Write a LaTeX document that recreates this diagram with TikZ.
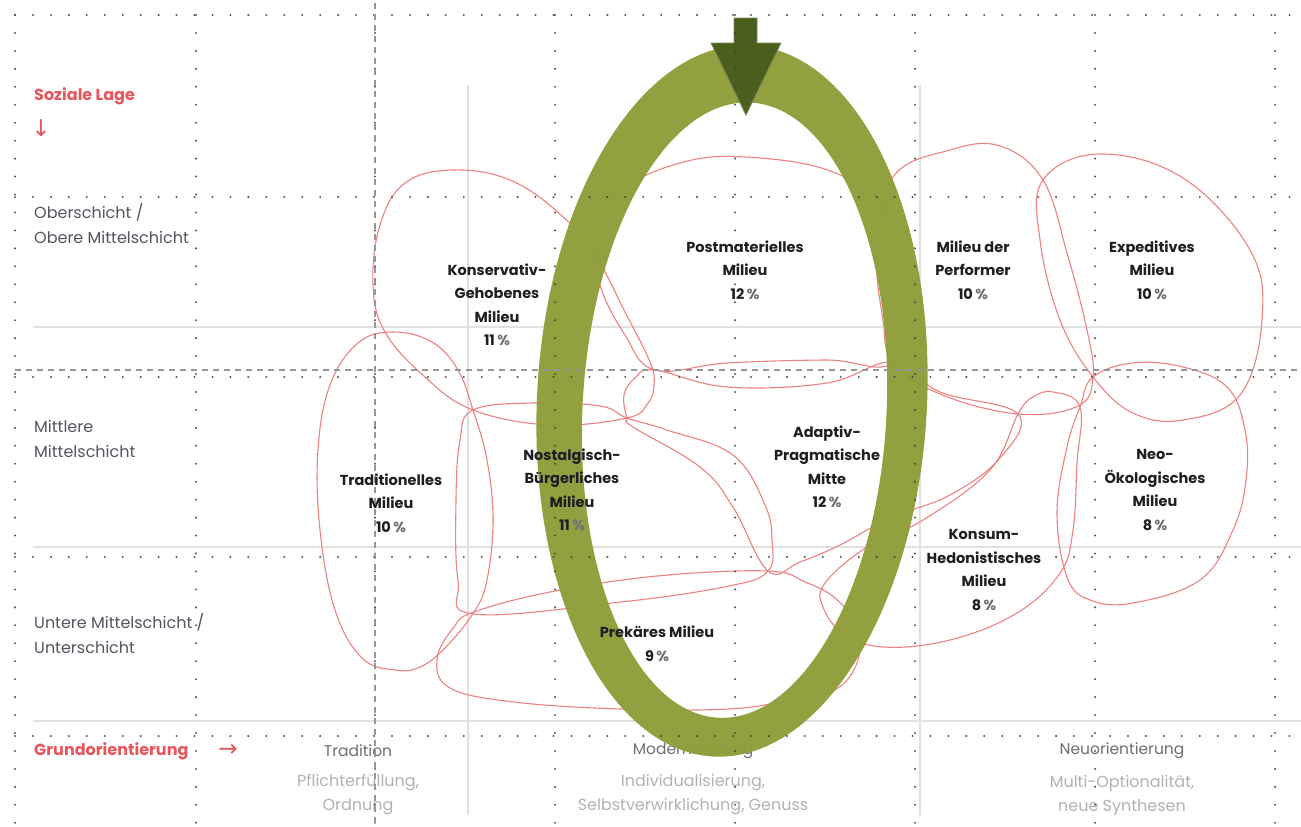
\documentclass[tikz,border=0pt]{standalone}
\usepackage{fontspec}
\setmainfont{Poppins}
\newfontfamily\arrowfont{DejaVu Sans}
\definecolor{blob}{RGB}{238,130,130}
\definecolor{ringg}{RGB}{143,157,58}
\definecolor{arrowg}{RGB}{74,94,30}
\definecolor{redlab}{RGB}{232,85,90}
\definecolor{sidegray}{RGB}{85,85,98}
\definecolor{subgray}{RGB}{178,178,178}
\definecolor{headgray}{RGB}{110,110,115}
\definecolor{dotc}{RGB}{60,60,65}
\definecolor{lgray}{RGB}{225,225,225}
\definecolor{dashc}{RGB}{150,150,150}
\definecolor{milc}{RGB}{30,30,35}
\definecolor{pctc}{RGB}{110,110,115}
\begin{document}
\begin{tikzpicture}[x=1pt,y=-1pt,
  blobline/.style={draw=blob, line width=1.1pt},
  dotline/.style={draw=dotc, line width=2.3pt, line cap=round, dash pattern=on 0pt off 17.95pt, opacity=0.85},
  dashline/.style={draw=dashc, line width=1.3pt, dash pattern=on 6pt off 5pt},
  gridgray/.style={draw=lgray, line width=1.6pt},
  mil/.style={font=\fontsize{14.5}{23.5}\selectfont\bfseries, align=center, text=milc, inner sep=0pt},
  side/.style={font=\fontsize{16}{25}\selectfont, text=sidegray, align=left, anchor=west, inner sep=0pt},
  redside/.style={font=\fontsize{16}{25}\selectfont\bfseries, text=redlab, anchor=west, inner sep=0pt},
  head/.style={font=\fontsize{15.5}{24}\selectfont, text=headgray, inner sep=0pt},
  sub/.style={font=\fontsize{16}{24}\selectfont, text=subgray, align=center, inner sep=0pt},
  arr/.style={text=redlab, inner sep=0pt, font=\arrowfont\fontsize{23}{23}\selectfont}
]
\useasboundingbox (0,0) rectangle (1301,827);
\fill[white] (0,0) rectangle (1301,827);

% light gray solid lines
\foreach \yy in {327,547,721} \draw[gridgray] (33,\yy) -- (1301,\yy);
\foreach \xx in {468,920} \draw[gridgray] (\xx,85) -- (\xx,815);

% milieu outlines
% Konservativ-Gehobenes
\draw[blobline] plot[smooth cycle, tension=0.65] coordinates {(473,410) (550,425) (627,418) (648,403) (654,385) (650,362) (625,312) (595,255) (560,214) (510,180) (453,170) (405,183) (380,225) (373,285) (385,332) (425,377)};
% Postmaterielles
\draw[blobline] plot[smooth cycle, tension=0.65] coordinates {(597,240) (620,192) (680,163) (745,157) (833,172) (890,215) (905,290) (893,362) (827,360) (727,363) (655,370) (625,335) (600,285)};
% Performer
\draw[blobline] plot[smooth cycle, tension=0.65] coordinates {(893,177) (950,150) (1000,146) (1043,180) (1067,253) (1087,330) (1093,377) (1078,406) (1018,414) (940,394) (893,362) (883,320) (877,253)};
% Expeditives
\draw[blobline] plot[smooth cycle, tension=0.65] coordinates {(1043,180) (1100,154) (1183,178) (1250,250) (1262,320) (1240,395) (1183,420) (1133,413) (1093,377) (1060,320) (1040,240)};
% Traditionelles
\draw[blobline] plot[smooth cycle, tension=0.65] coordinates {(393,332) (432,342) (458,370) (473,410) (487,460) (493,520) (487,580) (474,612) (445,648) (420,667) (395,670) (362,658) (335,610) (320,530) (318,450) (330,385) (358,343)};
% Nostalgisch-Buergerliches
\draw[blobline] plot[smooth cycle, tension=0.65] coordinates {(473,410) (533,403) (600,406) (627,418) (667,430) (733,455) (765,505) (772,540) (768,571) (729,586) (621,602) (474,614) (458,580) (456,500) (460,440)};
% Adaptiv-Pragmatische
\draw[blobline] plot[smooth cycle, tension=0.65] coordinates {(655,370) (727,387) (827,383) (893,362) (940,392) (1018,414) (1000,458) (950,495) (890,518) (840,545) (800,562) (768,571) (733,507) (700,467) (633,427) (627,418) (624,395) (635,378)};
% Konsum-Hedonistisches
\draw[blobline] plot[smooth cycle, tension=0.65] coordinates {(1018,414) (990,470) (923,520) (867,547) (825,583) (823,607) (843,633) (883,647) (950,640) (1017,613) (1060,573) (1073,530) (1077,463) (1080,407) (1053,392) (1033,397)};
% Neo-Oekologisches
\draw[blobline] plot[smooth cycle, tension=0.65] coordinates {(1093,377) (1133,363) (1183,367) (1227,387) (1245,430) (1246,480) (1233,530) (1200,580) (1133,603) (1090,600) (1067,577) (1057,513) (1067,447) (1080,407)};
% Prekaeres
\draw[blobline] plot[smooth cycle, tension=0.65] coordinates {(474,612) (550,592) (657,576) (768,571) (805,582) (835,598) (855,625) (858,660) (835,690) (790,700) (729,709) (621,709) (514,702) (450,688) (437,659) (454,627)};

% bottom axis headings (under the ring)
\node[head] (hTrad) at (358,751) {Tradition};
\node[head] (hMod) at (693,751) {Modernisierung};
\node[head] (hNeu) at (1122,751) {Neuorientierung};
\node[sub] (sTrad) at (358,795) {Pflichterfüllung,\\Ordnung};
\node[sub] (sMod) at (693,795) {Individualisierung,\\Selbstverwirklichung, Genuss};
\node[sub] (sNeu) at (1122,795) {Multi-Optionalität,\\neue Synthesen};

% green ring
\fill[ringg, even odd rule, opacity=0.97, rotate around={-3:(732,401)}] (732,401) ellipse [x radius=195, y radius=356] (735,410) ellipse [x radius=152, y radius=308];
% arrow
\filldraw[fill=arrowg, draw=arrowg!75!white, line width=0.8pt] (734,18) -- (757,18) -- (757,43) -- (781,43) -- (746,115) -- (711,43) -- (734,43) -- cycle;

% dotted grid
\foreach \xx in {15,196,375,555,735,915,1095,1275} \draw[dotline] (\xx,15) -- (\xx,827);
\foreach \yy in {15,197,377,557,736} \draw[dotline] (15,\yy) -- (1301,\yy);
% dashed lines
\draw[dashline] (375,3) -- (375,827);
\draw[dashline] (15,370) -- (1301,370);

% milieu labels
\node[mil] (mK) at (497,305) {Konservativ-\\Gehobenes\\Milieu\\11\,{\color{pctc}\%}};
\node[mil] (mP) at (745,270) {Postmaterielles\\Milieu\\12\,{\color{pctc}\%}};
\node[mil] (mPF) at (973,270) {Milieu der\\Performer\\10\,{\color{pctc}\%}};
\node[mil] (mE) at (1152,270) {Expeditives\\Milieu\\10\,{\color{pctc}\%}};
\node[mil] (mT) at (391,503) {Traditionelles\\Milieu\\10\,{\color{pctc}\%}};
\node[mil] (mN) at (572,490) {Nostalgisch-\\Bürgerliches\\Milieu\\11\,{\color{pctc}\%}};
\node[mil] (mA) at (827,467) {Adaptiv-\\Pragmatische\\Mitte\\12\,{\color{pctc}\%}};
\node[mil] (mO) at (1155,490) {Neo-\\Ökologisches\\Milieu\\8\,{\color{pctc}\%}};
\node[mil] (mH) at (984,570) {Konsum-\\Hedonistisches\\Milieu\\8\,{\color{pctc}\%}};
\node[mil] (mR) at (657,644) {Prekäres Milieu\\9\,{\color{pctc}\%}};

% side labels
\node[redside] (soz) at (34,96) {Soziale Lage};
\node[arr] (sozarr) at (41,128) {↓};
\node[side] (ober) at (34,224) {Oberschicht /\\Obere Mittelschicht};
\node[side] (mitt) at (34,439) {Mittlere\\Mittelschicht};
\node[side] (unt) at (34,634) {Untere Mittelschicht /\\Unterschicht};
\node[redside] (grund) at (34,751) {Grundorientierung};
\node[arr] (grarr) at (228,750) {→};
\end{tikzpicture}
\end{document}
